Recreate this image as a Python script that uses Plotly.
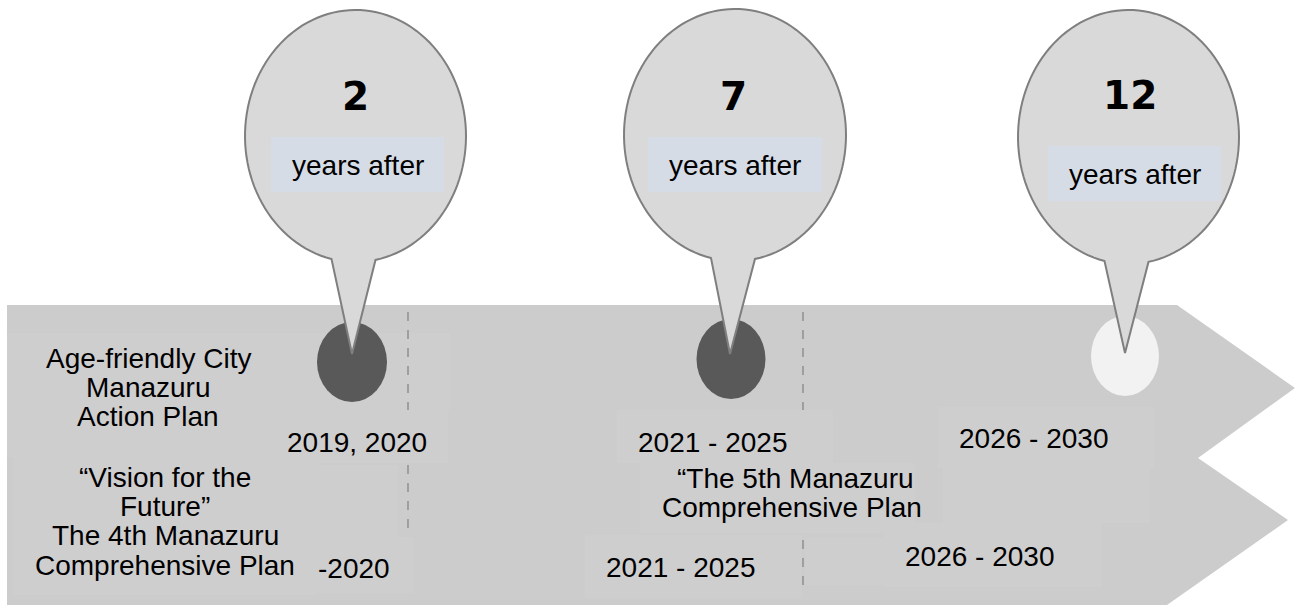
import numpy as np
import plotly.graph_objects as go

# ---------------- data ----------------
years_after = ["2", "7", "12"]
caption = "years after"
dot_status = ["done", "done", "future"]
action_plan_title = ["Age-friendly City", "Manazuru", "Action Plan"]
action_plan_periods = ["2019, 2020", "2021 - 2025", "2026 - 2030"]
comp4_title = ["\u201cVision for the", "Future\u201d", "The 4th Manazuru", "Comprehensive Plan"]
comp4_period = "-2020"
comp5_title = ["\u201cThe 5th Manazuru", "Comprehensive Plan"]
comp5_periods = ["2021 - 2025", "2026 - 2030"]

# ---------------- layout geometry (pixel space) ----------------
W, H = 1295, 605
BAND = "#cccccc"
BOX = "#cfcecf"
DOT_COL = {"done": "#595959", "future": "#f2f2f2"}
FONT = "Liberation Sans, Arial, sans-serif"
TXT = 28

balloon_geo = [  # cx, cy, rx, ry, tipx, tipy
    (355.5, 136, 110.5, 126, 352, 354),
    (735, 135, 111, 126, 730, 354),
    (1128.5, 137, 110.5, 127, 1125, 353),
]
num_pos = [(355, 96), (733, 96), (1130, 95)]
cap_box = [(271, 137, 444, 192), (648, 137, 822, 192), (1048, 146, 1221, 201)]
dot_geo = [(352, 362, 35, 40), (731, 359, 34.5, 40), (1125, 356, 34, 40)]

fig = go.Figure()
fig.add_trace(go.Scatter(x=[0, W], y=[0, H], mode="markers",
                         marker=dict(opacity=0), hoverinfo="skip", showlegend=False))

shapes = []
band_pts = [(7, 305), (1177, 305), (1295, 388), (1198, 458), (1288, 520),
            (1167, 605), (7, 605)]
shapes.append(dict(type="path", xref="x", yref="y", layer="below",
                   path="M " + " L ".join(f"{x},{y}" for x, y in band_pts) + " Z",
                   fillcolor=BAND, line=dict(width=0)))
boxes = [(7, 333, 288, 457), (288, 410, 448, 463), (13, 457, 317, 595),
         (317, 465, 398, 537), (317, 537, 413, 593), (617, 410, 833, 463),
         (640, 463, 915, 533), (585, 535, 802, 598), (805, 538, 883, 585),
         (938, 407, 1154, 468), (943, 468, 1150, 523), (883, 523, 1102, 587),
         (288, 333, 450, 410)]
for x0, y0, x1, y1 in boxes:
    shapes.append(dict(type="rect", xref="x", yref="y", layer="below",
                       x0=x0, y0=y0, x1=x1, y1=y1, fillcolor=BOX, line=dict(width=0)))
for x, y0, y1 in [(408, 312, 410), (408, 465, 537), (803, 312, 410), (803, 540, 594)]:
    shapes.append(dict(type="line", xref="x", yref="y", x0=x, x1=x, y0=y0, y1=y1,
                       line=dict(color="#808080", width=1.2, dash="dash")))
for (cx, cy, rx, ry), st in zip(dot_geo, dot_status):
    shapes.append(dict(type="circle", xref="x", yref="y", x0=cx - rx, x1=cx + rx,
                       y0=cy - ry, y1=cy + ry, fillcolor=DOT_COL[st], line=dict(width=0)))
for cx, cy, rx, ry, tx, ty in balloon_geo:
    t0 = np.arccos(-24 / rx)
    t1 = 2 * np.pi + np.arccos(20 / rx)
    ts = np.linspace(t0, t1, 120)
    pts = [(cx + rx * np.cos(t), cy + ry * np.sin(t)) for t in ts]
    pts.append((tx, ty))
    path = "M " + " L ".join(f"{x:.2f},{y:.2f}" for x, y in pts) + " Z"
    shapes.append(dict(type="path", xref="x", yref="y", path=path,
                       fillcolor="#d9d9d9", line=dict(color="#7f7f7f", width=2)))
for x0, y0, x1, y1 in cap_box:
    shapes.append(dict(type="rect", xref="x", yref="y", x0=x0, y0=y0, x1=x1, y1=y1,
                       fillcolor="#d6dce5", line=dict(width=0)))

ann = []
def txt(s, x, y, size=TXT, family=FONT, bold=False):
    ann.append(dict(x=x, y=y, xref="x", yref="y", text=(f"<b>{s}</b>" if bold else s),
                    showarrow=False, xanchor="center", yanchor="middle",
                    font=dict(family=family, size=size, color="#000000")))

for s, (x, y) in zip(years_after, num_pos):
    txt(s, x, y, size=39, family="DejaVu Sans, Verdana, sans-serif", bold=True)
for x0, y0, x1, y1 in cap_box:
    txt(caption, (x0 + x1) / 2, (y0 + y1) / 2 + 1)

for s, y in zip(action_plan_title, [358, 387, 416]):
    txt(s, 148, y)
for s, (x, y) in zip(action_plan_periods, [(357, 442), (712, 442), (1033, 438)]):
    txt(s, x, y)
for s, y in zip(comp4_title, [477, 506, 535, 565]):
    txt(s, 165, y)
txt(comp4_period, 354, 568)
for s, (x, y) in zip(comp5_title, [(795, 478), (792, 507)]):
    txt(s, x, y)
for s, (x, y) in zip(comp5_periods, [(680, 567), (979, 556)]):
    txt(s, x, y)

fig.update_layout(
    width=W, height=H, margin=dict(l=0, r=0, t=0, b=0),
    paper_bgcolor="white", plot_bgcolor="white",
    xaxis=dict(range=[0, W], visible=False, fixedrange=True),
    yaxis=dict(range=[H, 0], visible=False, fixedrange=True),
    shapes=shapes, annotations=ann, showlegend=False,
)
fig.write_html("out.html", config={"displayModeBar": False},
               post_script="document.body.style.margin='0';document.body.style.overflow='hidden';")
